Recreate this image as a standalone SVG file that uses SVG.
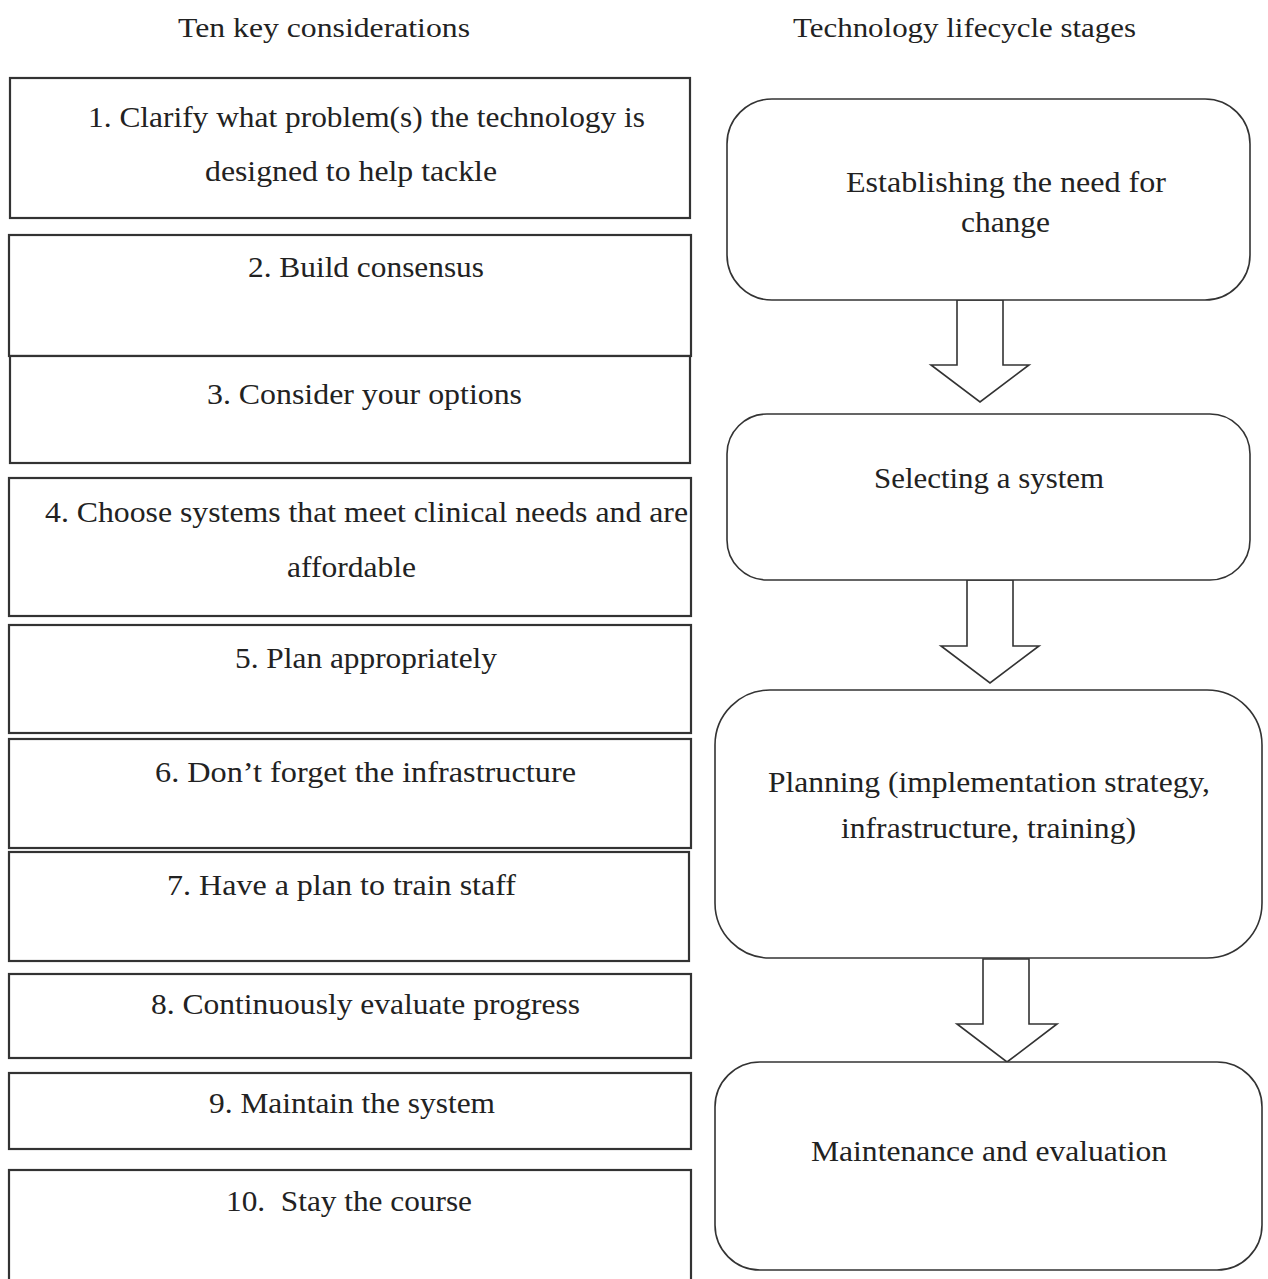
<svg xmlns="http://www.w3.org/2000/svg" width="1268" height="1279" viewBox="0 0 1268 1279">
<style>
text{font-family:"Liberation Serif","Times New Roman",serif;fill:#222;text-anchor:middle;font-size:29px}
.hdr{font-size:28px}
.lbox{fill:#fff;stroke:#333;stroke-width:2.2}
.rbox{fill:#fff;stroke:#333;stroke-width:1.6}
.arr{fill:#fff;stroke:#333;stroke-width:1.6;stroke-linejoin:miter}
</style>
<rect width="1268" height="1279" fill="#fff"/>
<text class="hdr" x="324" y="37" textLength="292" lengthAdjust="spacingAndGlyphs">Ten key considerations</text>
<text class="hdr" x="964.5" y="37" textLength="343" lengthAdjust="spacingAndGlyphs">Technology lifecycle stages</text>

<g id="k1"><rect class="lbox" x="10" y="78" width="680" height="140"/><text x="366.5" y="127" textLength="557" lengthAdjust="spacingAndGlyphs">1. Clarify what problem(s) the technology is</text><text x="351" y="181" textLength="292" lengthAdjust="spacingAndGlyphs">designed to help tackle</text></g>
<g id="k2"><rect class="lbox" x="9" y="235" width="682" height="121"/><text x="366" y="277" textLength="236" lengthAdjust="spacingAndGlyphs">2. Build consensus</text></g>
<g id="k3"><rect class="lbox" x="10" y="356" width="680" height="107"/><text x="364.5" y="404" textLength="315" lengthAdjust="spacingAndGlyphs">3. Consider your options</text></g>
<g id="k4"><rect class="lbox" x="9" y="478" width="682" height="138"/><text x="366.5" y="522" textLength="643" lengthAdjust="spacingAndGlyphs">4. Choose systems that meet clinical needs and are</text><text x="351.5" y="577" textLength="129" lengthAdjust="spacingAndGlyphs">affordable</text></g>
<g id="k5"><rect class="lbox" x="9" y="625" width="682" height="108"/><text x="366" y="668" textLength="262" lengthAdjust="spacingAndGlyphs">5. Plan appropriately</text></g>
<g id="k6"><rect class="lbox" x="9" y="739" width="682" height="109"/><text x="365.5" y="782" textLength="421" lengthAdjust="spacingAndGlyphs">6. Don’t forget the infrastructure</text></g>
<g id="k7"><rect class="lbox" x="9" y="852" width="680" height="109"/><text x="341.5" y="895" textLength="349" lengthAdjust="spacingAndGlyphs">7. Have a plan to train staff</text></g>
<g id="k8"><rect class="lbox" x="9" y="974" width="682" height="84"/><text x="365.5" y="1014" textLength="429" lengthAdjust="spacingAndGlyphs">8. Continuously evaluate progress</text></g>
<g id="k9"><rect class="lbox" x="9" y="1073" width="682" height="76"/><text x="352" y="1113" textLength="286" lengthAdjust="spacingAndGlyphs">9. Maintain the system</text></g>
<g id="k10"><rect class="lbox" x="9" y="1170" width="682" height="115"/><text x="349" y="1211" textLength="246" lengthAdjust="spacingAndGlyphs" xml:space="preserve">10.  Stay the course</text></g>

<g id="connectors">
<path class="arr" d="M957,300 V365 H931 L980,402 L1029,365 H1003 V300 Z"/>
<path class="arr" d="M967,580 V646 H941 L990,683 L1039,646 H1013 V580 Z"/>
<path class="arr" d="M983,959 V1024 H957 L1007,1062 L1057,1024 H1029 V959 Z"/>
</g>

<g id="s1"><rect class="rbox" x="727" y="99" width="523" height="201" rx="45"/><text x="1006" y="192" textLength="320" lengthAdjust="spacingAndGlyphs">Establishing the need for</text><text x="1005.5" y="232" textLength="89" lengthAdjust="spacingAndGlyphs">change</text></g>
<g id="s2"><rect class="rbox" x="727" y="414" width="523" height="166" rx="40"/><text x="989" y="488" textLength="230" lengthAdjust="spacingAndGlyphs">Selecting a system</text></g>
<g id="s3"><rect class="rbox" x="715" y="690" width="547" height="268" rx="55"/><text x="989" y="792" textLength="442" lengthAdjust="spacingAndGlyphs">Planning (implementation strategy,</text><text x="988.5" y="838" textLength="295" lengthAdjust="spacingAndGlyphs">infrastructure, training)</text></g>
<g id="s4"><rect class="rbox" x="715" y="1062" width="547" height="208" rx="45"/><text x="989" y="1161" textLength="356" lengthAdjust="spacingAndGlyphs">Maintenance and evaluation</text></g>
</svg>
